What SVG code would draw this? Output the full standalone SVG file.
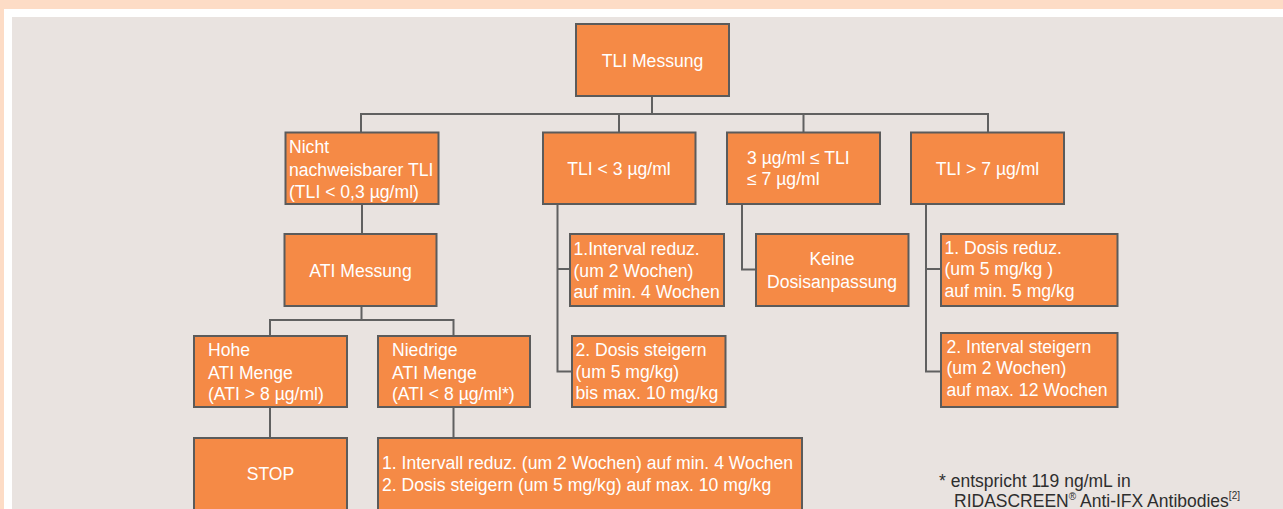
<svg xmlns="http://www.w3.org/2000/svg" width="1283" height="509" viewBox="0 0 1283 509">
<style>
.box{fill:#f58a46;stroke:#5b5b5b;stroke-width:2}
.t{font-family:"Liberation Sans",Arial,sans-serif;font-size:17.6px;fill:#ffffff}
.c{text-anchor:middle}
.ln{fill:none;stroke:#606060;stroke-width:2}
.fn{font-family:"Liberation Sans",Arial,sans-serif;font-size:17.5px;fill:#2e2e2e}
</style>
<rect x="0" y="0" width="1283" height="509" fill="#fddcc6"/>
<rect x="4" y="9" width="1279" height="500" fill="#ffffff"/>
<rect x="12" y="17" width="1271" height="492" fill="#e9e3e0"/>
<g id="connectors">
<path class="ln" d="M652 96V114M361 132V114H988V132M619 114V132M803.5 114V132"/>
<path class="ln" d="M362 204V234"/>
<path class="ln" d="M361.5 306V320M270 336V320H453.5V336"/>
<path class="ln" d="M270 407V438M453.5 407V438"/>
<path class="ln" d="M557.5 204V371.5H572M557.5 269H570"/>
<path class="ln" d="M742 204V269.5H756"/>
<path class="ln" d="M926 204V371.5H941M926 269H941"/>
</g>
<g id="tli">
<rect class="box" x="576" y="24" width="153" height="72"/>
<text class="t c" x="652.5" y="67">TLI Messung</text>
</g>
<g id="nicht">
<rect class="box" x="285.5" y="132.5" width="153" height="71.5"/>
<text class="t" x="289" y="153">Nicht</text>
<text class="t" x="289" y="175.5">nachweisbarer TLI</text>
<text class="t" x="289" y="197.5">(TLI &lt; 0,3 µg/ml)</text>
</g>
<g id="tli3">
<rect class="box" x="543" y="132.5" width="152.5" height="71.5"/>
<text class="t c" x="619" y="175">TLI &lt; 3 µg/ml</text>
</g>
<g id="tli37">
<rect class="box" x="727" y="132.5" width="153" height="71.5"/>
<text class="t" x="747" y="163.5">3 µg/ml ≤ TLI</text>
<text class="t" x="747" y="185">≤ 7 µg/ml</text>
</g>
<g id="tli7">
<rect class="box" x="911" y="132.5" width="153" height="71.5"/>
<text class="t c" x="987.5" y="175">TLI &gt; 7 µg/ml</text>
</g>
<g id="ati">
<rect class="box" x="284.5" y="234" width="152" height="72"/>
<text class="t c" x="360.5" y="277">ATI Messung</text>
</g>
<g id="hohe">
<rect class="box" x="194" y="336" width="153" height="71"/>
<text class="t" x="208" y="356">Hohe</text>
<text class="t" x="208" y="378.5">ATI Menge</text>
<text class="t" x="208" y="400">(ATI &gt; 8 µg/ml)</text>
</g>
<g id="niedrige">
<rect class="box" x="378" y="336" width="152" height="71"/>
<text class="t" x="392" y="356">Niedrige</text>
<text class="t" x="392" y="378.5">ATI Menge</text>
<text class="t" x="392" y="400">(ATI &lt; 8 µg/ml*)</text>
</g>
<g id="stop">
<rect class="box" x="194" y="438" width="153" height="74"/>
<text class="t c" x="270.5" y="480">STOP</text>
</g>
<g id="massnahmen">
<rect class="box" x="378" y="438" width="424" height="74"/>
<text class="t" x="382" y="468.5">1. Intervall reduz. (um 2 Wochen) auf min. 4 Wochen</text>
<text class="t" x="382" y="490.5">2. Dosis steigern (um 5 mg/kg) auf max. 10 mg/kg</text>
</g>
<g id="interval1">
<rect class="box" x="570" y="234" width="154" height="72"/>
<text class="t" x="573.5" y="255">1.Interval reduz.</text>
<text class="t" x="573.5" y="276.5">(um 2 Wochen)</text>
<text class="t" x="573.5" y="298">auf min. 4 Wochen</text>
</g>
<g id="dosis2">
<rect class="box" x="572" y="336" width="153.5" height="71"/>
<text class="t" x="575.5" y="356">2. Dosis steigern</text>
<text class="t" x="575.5" y="377.5">(um 5 mg/kg)</text>
<text class="t" x="575.5" y="398.5">bis max. 10 mg/kg</text>
</g>
<g id="keine">
<rect class="box" x="756" y="234" width="152.5" height="72"/>
<text class="t c" x="832" y="265">Keine</text>
<text class="t c" x="832" y="287.5">Dosisanpassung</text>
</g>
<g id="dosis1">
<rect class="box" x="941" y="234" width="176.5" height="72"/>
<text class="t" x="944.5" y="253.5">1. Dosis reduz.</text>
<text class="t" x="944.5" y="275">(um 5 mg/kg )</text>
<text class="t" x="944.5" y="296.5">auf min. 5 mg/kg</text>
</g>
<g id="interval2">
<rect class="box" x="941" y="333" width="176.5" height="74"/>
<text class="t" x="946.5" y="352.5">2. Interval steigern</text>
<text class="t" x="946.5" y="374">(um 2 Wochen)</text>
<text class="t" x="946.5" y="395.5">auf max. 12 Wochen</text>
</g>
<g id="footnote">
<text class="fn" x="939" y="487">* entspricht 119 ng/mL in</text>
<text class="fn" x="954" y="507">RIDASCREEN<tspan font-size="10" dy="-7">®</tspan><tspan dy="7"> Anti-IFX Antibodies</tspan><tspan font-size="10" dy="-8">[2]</tspan></text>
</g>
</svg>
